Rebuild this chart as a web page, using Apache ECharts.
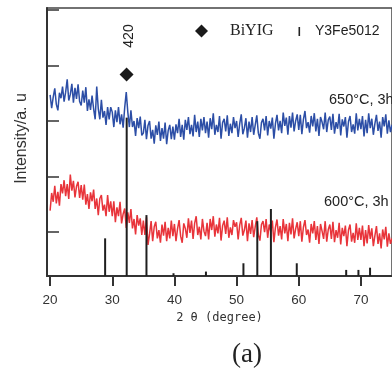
<!DOCTYPE html>
<html>
<head>
<meta charset="utf-8">
<script src="https://cdn.jsdelivr.net/npm/echarts@6/dist/echarts.min.js"></script>
<style>
  html, body { margin: 0; padding: 0; background: #fff; }
  #chart { width: 392px; height: 370px; }
</style>
</head>
<body>
<div id="chart"></div>
<script>
// 2θ sampling of the scans: 20° to 75° every 0.25°
const twoThetaStart = 20;
const twoThetaStep = 0.25;

// 650 °C, 3 h (blue) intensity
const scan650 = [
  347, 323, 343, 359, 330, 319, 351, 341, 362, 335, 352, 375, 337, 348, 367, 333, 360, 340, 366, 335,
  328, 355, 333, 361, 318, 339, 320, 346, 322, 303, 362, 322, 303, 338, 306, 318, 293, 325, 303, 325,
  316, 289, 319, 298, 325, 294, 312, 288, 324, 352, 316, 289, 319, 289, 300, 273, 305, 287, 308, 274,
  278, 302, 267, 292, 300, 268, 284, 259, 292, 275, 299, 264, 287, 268, 297, 258, 283, 293, 267, 290,
  266, 294, 278, 304, 271, 293, 266, 302, 284, 307, 276, 293, 272, 311, 280, 299, 271, 304, 283, 307,
  278, 299, 270, 305, 285, 314, 275, 293, 280, 309, 268, 297, 304, 281, 310, 273, 295, 278, 307, 287,
  300, 271, 295, 312, 276, 287, 305, 270, 299, 280, 307, 275, 293, 310, 278, 268, 297, 304, 283, 309,
  274, 300, 286, 306, 268, 295, 311, 283, 300, 278, 315, 291, 306, 275, 309, 288, 315, 281, 300, 312,
  284, 311, 276, 303, 318, 287, 298, 279, 309, 290, 314, 281, 304, 273, 307, 298, 285, 315, 280, 302,
  308, 284, 313, 277, 298, 286, 313, 274, 303, 290, 307, 270, 299, 309, 280, 294, 277, 314, 283, 304,
  285, 309, 272, 302, 278, 314, 287, 304, 275, 295, 311, 282, 299, 270, 307, 290, 312, 277, 301, 280,
  293
];

// 600 °C, 3 h (red) intensity
const scan600 = [
  138, 170, 154, 183, 151, 172, 147, 186, 169, 193, 164, 186, 159, 203, 174, 192, 162, 182, 190, 161,
  184, 158, 185, 149, 168, 141, 171, 155, 176, 141, 160, 130, 160, 166, 138, 149, 128, 166, 136, 155,
  128, 155, 117, 144, 128, 154, 115, 132, 142, 107, 135, 116, 141, 106, 123, 95, 130, 111, 124, 94,
  120, 94, 126, 76, 96, 119, 83, 109, 118, 88, 103, 80, 113, 93, 118, 83, 107, 88, 120, 92,
  114, 83, 105, 121, 92, 80, 115, 106, 89, 124, 98, 120, 87, 115, 128, 94, 109, 86, 123, 101,
  92, 116, 86, 123, 103, 128, 91, 113, 97, 125, 84, 111, 120, 96, 126, 89, 108, 94, 121, 109,
  117, 86, 112, 125, 93, 103, 120, 83, 115, 96, 121, 90, 109, 126, 94, 84, 113, 119, 99, 123,
  89, 113, 100, 120, 81, 108, 122, 93, 110, 86, 123, 97, 114, 83, 116, 95, 124, 88, 105, 117,
  92, 119, 82, 108, 121, 94, 104, 80, 114, 97, 119, 85, 110, 78, 114, 101, 87, 119, 82, 104,
  113, 87, 118, 81, 103, 89, 116, 77, 107, 92, 111, 74, 103, 113, 82, 98, 80, 115, 85, 107,
  85, 111, 74, 103, 79, 112, 87, 106, 74, 93, 110, 78, 97, 70, 104, 86, 109, 73, 97, 78,
  88
];

// Y3Fe5O12 reference pattern (stick lines)
const refPositions = [28.85, 32.32, 35.5, 39.85, 45.07, 51.1, 53.33, 55.52, 59.68, 67.63, 69.6, 71.47];
const refHeights = [88, 306, 130, 25, 28, 43, 119, 141, 43, 31, 31, 35];

// BiYIG (420) marker
const biyigPos = [32.3];
const biyigLevel = [384];

const xTicks = [20, 30, 40, 50, 60, 70];
const yTicks = [100, 200, 300, 400, 500];

const toPairs = (values) => values.map((v, i) => [twoThetaStart + i * twoThetaStep, v]);

const chart = echarts.init(document.getElementById("chart"), null, { renderer: "canvas" });
const sans = "'Liberation Sans', Arial, sans-serif";
const serif = "'Liberation Serif', 'Times New Roman', serif";

chart.setOption({
  animation: false,
  grid: {
    left: 47, top: 8, width: 347, height: 268,
    show: true, borderColor: "#444", borderWidth: 1.5
  },
  xAxis: {
    type: "value",
    min: 19.5,
    max: 75,
    name: "2 θ (degree)",
    nameLocation: "middle",
    nameGap: 36,
    nameTextStyle: { color: "#333", fontSize: 12, fontFamily: "'DejaVu Sans Mono', monospace" },
    axisLine: { lineStyle: { color: "#333", width: 2 } },
    axisTick: { customValues: xTicks, length: 10, lineStyle: { color: "#333", width: 2 } },
    axisLabel: { customValues: xTicks, margin: 17, color: "#333", fontSize: 13.5, fontFamily: sans },
    splitLine: { show: false }
  },
  yAxis: {
    type: "value",
    min: 20,
    max: 504,
    axisLine: { show: true, lineStyle: { color: "#333", width: 2 } },
    axisTick: { customValues: yTicks, inside: true, length: 12, lineStyle: { color: "#333", width: 1.5 } },
    axisLabel: { show: false },
    splitLine: { show: false }
  },
  graphic: [
    { type: "text", x: 22, y: 138.5, rotation: Math.PI / 2,
      style: { text: "Intensity/a. u", fill: "#333", font: "16px " + sans, align: "center", verticalAlign: "middle" } },
    { type: "text", x: 129, y: 36, rotation: Math.PI / 2,
      style: { text: "420", fill: "#222", font: "14px " + sans, align: "center", verticalAlign: "middle" } },
    { type: "polygon", shape: { points: [[201.5, 24.5], [208, 31], [201.5, 37.5], [195, 31]] }, style: { fill: "#1a1a1a" } },
    { type: "text", x: 230, y: 31, style: { text: "BiYIG", fill: "#222", font: "16px " + serif, verticalAlign: "middle" } },
    { type: "rect", shape: { x: 298.5, y: 27, width: 1.6, height: 9 }, style: { fill: "#222" } },
    { type: "text", x: 315, y: 31, style: { text: "Y3Fe5012", fill: "#222", font: "14px " + sans, verticalAlign: "middle" } },
    { type: "text", x: 329, y: 100, style: { text: "650°C, 3h", fill: "#222", font: "14.5px " + sans, verticalAlign: "middle" } },
    { type: "text", x: 324, y: 202, style: { text: "600°C, 3h", fill: "#222", font: "14.5px " + sans, verticalAlign: "middle" } },
    { type: "text", x: 247, y: 355, style: { text: "(a)", fill: "#222", font: "27px " + serif, align: "center", verticalAlign: "middle" } }
  ],
  series: [
    {
      name: "600°C, 3h",
      type: "line",
      data: toPairs(scan600),
      showSymbol: false,
      lineStyle: { color: "#e8343a", width: 1.5 },
      z: 2
    },
    {
      name: "650°C, 3h",
      type: "line",
      data: toPairs(scan650),
      showSymbol: false,
      lineStyle: { color: "#2c4ea6", width: 1.5 },
      z: 2
    },
    {
      name: "Y3Fe5012",
      type: "bar",
      data: refPositions.map((x, i) => [x, refHeights[i]]),
      barWidth: 2,
      clip: true,
      itemStyle: { color: "#1f1f1f" },
      z: 3
    },
    {
      name: "BiYIG",
      type: "scatter",
      data: biyigPos.map((x, i) => [x, biyigLevel[i]]),
      symbol: "diamond",
      symbolSize: 14,
      itemStyle: { color: "#1a1a1a", opacity: 1 },
      z: 4
    }
  ]
});
</script>
</body>
</html>
